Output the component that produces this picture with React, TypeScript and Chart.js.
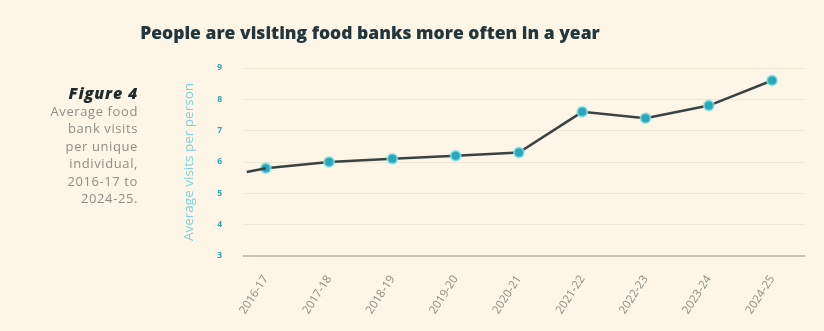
import React, { useEffect, useRef } from 'react';
import { Chart, registerables } from 'chart.js';

Chart.register(...registerables);

const years = ['2016-17', '2017-18', '2018-19', '2019-20', '2020-21', '2021-22', '2022-23', '2023-24', '2024-25'];
const visits = [5.8, 6.0, 6.1, 6.2, 6.3, 7.6, 7.4, 7.8, 8.6];
const leadInX = [-0.3, 0];
const leadInY = [5.68, 5.8];
const yTicks = [3, 4, 5, 6, 7, 8, 9];
const titleText = 'People are visiting food banks more often in a year';
const figureLabel = 'Figure 4';
const captionLines = ['Average food', 'bank visits', 'per unique', 'individual,', '2016-17 to', '2024-25.'];
const yAxisTitle = 'Average visits per person';

const BG = '#fdf6e6';
const TEAL = '#2aa7b9';
const LINE = '#3b4242';

export default function App() {
  const canvasRef = useRef<HTMLCanvasElement | null>(null);

  useEffect(() => {
    if (!canvasRef.current) return;
    const chart = new Chart(canvasRef.current, {
      type: 'line',
      data: {
        datasets: [
          {
            data: leadInX.map((x, i) => ({ x, y: leadInY[i] })),
            borderColor: LINE,
            borderWidth: 2.5,
            pointRadius: 0,
            pointHoverRadius: 0,
            fill: false,
          },
          {
            data: visits.map((v, i) => ({ x: i, y: v })),
            borderColor: LINE,
            borderWidth: 2.5,
            pointRadius: 5,
            pointBackgroundColor: TEAL,
            pointBorderColor: 'rgba(140,225,235,0.75)',
            pointBorderWidth: 2,
            fill: false,
          },
        ],
      },
      options: {
        animation: false,
        responsive: false,
        maintainAspectRatio: false,
        layout: { padding: { top: 68, right: 19, left: 0, bottom: 0 } },
        plugins: { legend: { display: false }, tooltip: { enabled: false }, title: { display: false } },
        scales: {
          x: {
            type: 'linear',
            min: -0.36,
            max: 8.52,
            grid: { display: false },
            border: { display: false },
            afterBuildTicks: (scale: any) => {
              scale.ticks = years.map((_, i) => ({ value: i }));
            },
            afterFit: (scale: any) => {
              scale.height = 75;
            },
            ticks: {
              autoSkip: false,
              minRotation: 57,
              maxRotation: 57,
              padding: 9,
              color: '#8d8d85',
              font: { family: 'Open Sans', size: 11.5 },
              callback: (v: any) => years[Math.round(Number(v))] ?? '',
            },
          },
          y: {
            min: 3,
            max: 9,
            afterBuildTicks: (scale: any) => {
              scale.ticks = yTicks.map((v) => ({ value: v }));
            },
            afterFit: (scale: any) => {
              scale.width = 243;
            },
            border: { display: false },
            grid: {
              drawTicks: false,
              color: (ctx: any) => (ctx.tick && ctx.tick.value === 3 ? '#c9c0ae' : '#efe6d3'),
              lineWidth: (ctx: any) => (ctx.tick && ctx.tick.value === 3 ? 2 : 1),
            },
            ticks: {
              padding: 21,
              color: TEAL,
              font: { family: 'Open Sans', size: 8.5, weight: 'bold' },
            },
            title: {
              display: true,
              text: yAxisTitle,
              color: '#82d1db',
              font: { family: 'Open Sans', size: 13.5 },
              padding: { top: 181, bottom: 0 },
            },
          },
        },
      },
    });
    return () => chart.destroy();
  }, []);

  return (
    <div style={{ position: 'fixed', left: 0, top: 0, width: 824, height: 331, background: BG, overflow: 'hidden' }}>
      <canvas ref={canvasRef} width={824} height={331} style={{ position: 'absolute', left: 0, top: 0, width: 824, height: 331 }} />
      <div
        style={{
          position: 'absolute',
          left: 0,
          width: 740,
          top: 20,
          textAlign: 'center',
          fontFamily: 'Open Sans',
          fontWeight: 800,
          fontSize: 17.5,
          color: '#22363c',
          whiteSpace: 'nowrap',
        }}
      >
        {titleText}
      </div>
      <div
        style={{
          position: 'absolute',
          left: 0,
          width: 138,
          top: 82,
          textAlign: 'right',
          fontFamily: 'Open Sans',
          fontWeight: 800,
          fontStyle: 'italic',
          fontSize: 16,
          letterSpacing: '0.8px',
          color: '#1f2a2c',
        }}
      >
        {figureLabel}
      </div>
      <div
        style={{
          position: 'absolute',
          left: 0,
          width: 138,
          top: 103,
          textAlign: 'right',
          fontFamily: 'Open Sans',
          fontSize: 13,
          letterSpacing: '0.6px',
          lineHeight: '17.4px',
          color: '#8e8e86',
        }}
      >
        {captionLines.map((l) => (
          <div key={l}>{l}</div>
        ))}
      </div>
    </div>
  );
}
